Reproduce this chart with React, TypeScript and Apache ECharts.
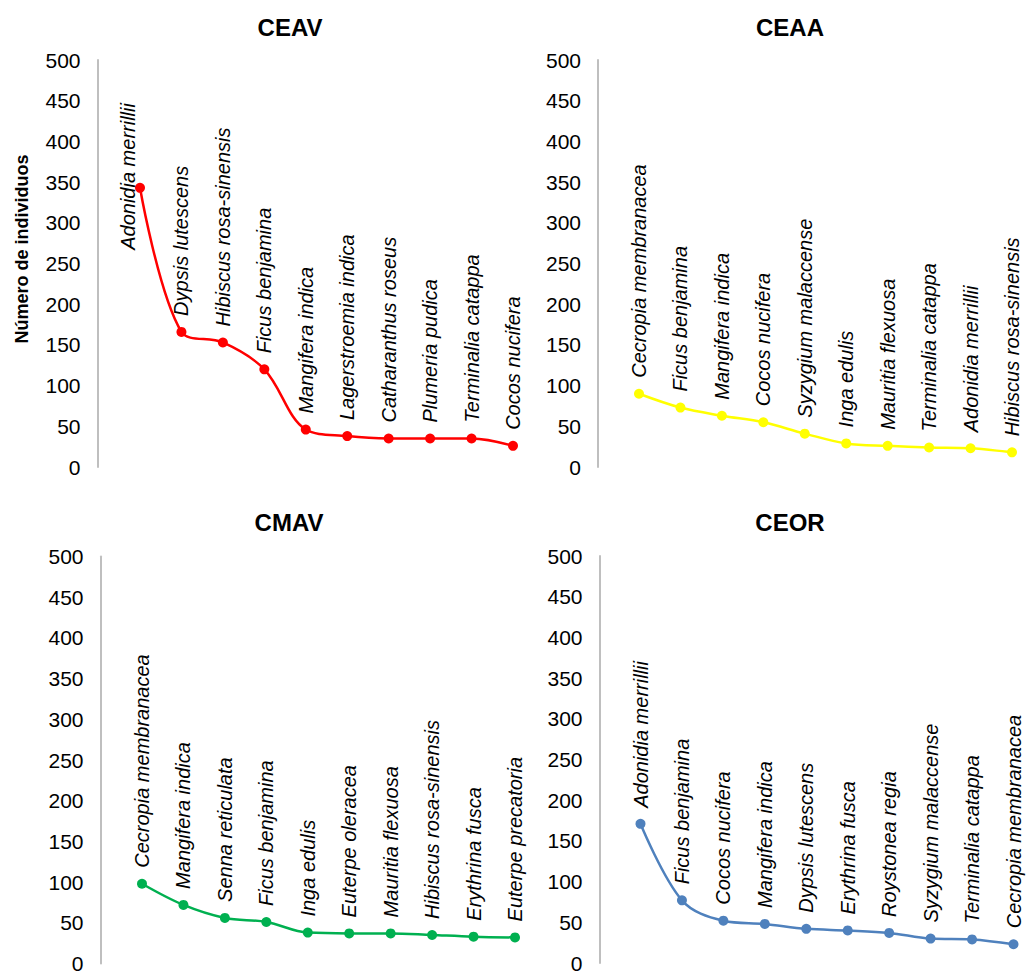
import React, { useEffect, useRef } from "react";
import * as echarts from "echarts";

const categoriesCEAV = ["Adonidia merrillii", "Dypsis lutescens", "Hibiscus rosa-sinensis", "Ficus benjamina", "Mangifera indica", "Lagerstroemia indica", "Catharanthus roseus", "Plumeria pudica", "Terminalia catappa", "Cocos nucifera"];
const valuesCEAV = [343, 166, 153, 120, 46, 38, 35, 35, 35, 26];

const categoriesCEAA = ["Cecropia membranacea", "Ficus benjamina", "Mangifera indica", "Cocos nucifera", "Syzygium malaccense", "Inga edulis", "Mauritia flexuosa", "Terminalia catappa", "Adonidia merrillii", "Hibiscus rosa-sinensis"];
const valuesCEAA = [90, 73, 63, 55, 41, 29, 26, 24, 23, 18];

const categoriesCMAV = ["Cecropia membranacea", "Mangifera indica", "Senna reticulata", "Ficus benjamina", "Inga edulis", "Euterpe oleracea", "Mauritia flexuosa", "Hibiscus rosa-sinensis", "Erythrina fusca", "Euterpe precatoria"];
const valuesCMAV = [98, 72, 56, 51, 38, 37, 37, 35, 33, 32];

const categoriesCEOR = ["Adonidia merrillii", "Ficus benjamina", "Cocos nucifera", "Mangifera indica", "Dypsis lutescens", "Erythrina fusca", "Roystonea regia", "Syzygium malaccense", "Terminalia catappa", "Cecropia membranacea"];
const valuesCEOR = [171, 77, 52, 48, 42, 40, 37, 30, 29, 23];

const panelTitles = ["CEAV", "CEAA", "CMAV", "CEOR"];
const yTicks = { min: 0, max: 500, interval: 50 };
const yAxisName = "Número de individuos";

const FONT = "'Liberation Sans', Arial, sans-serif";

export default function App() {
  const ref = useRef<HTMLDivElement>(null);
  useEffect(() => {
    document.body.style.margin = "0";
    if (!ref.current) return;
    const chart = echarts.init(ref.current, undefined, { renderer: "svg" });

    const panels = [
      { cats: categoriesCEAV, vals: valuesCEAV, color: "#FF0000", left: 140, top: 60, axisX: 97.5, titleX: 285, titleY: 10 },
      { cats: categoriesCEAA, vals: valuesCEAA, color: "#FFFF00", left: 639, top: 60, axisX: 598, titleX: 785, titleY: 10 },
      { cats: categoriesCMAV, vals: valuesCMAV, color: "#00B050", left: 142, top: 556.5, axisX: 100.5, titleX: 284, titleY: 505 },
      { cats: categoriesCEOR, vals: valuesCEOR, color: "#4F81BD", left: 640.5, top: 556, axisX: 599.5, titleX: 785, titleY: 505 },
    ];
    const gridW = 373;
    const gridH = 407;

    const option: any = {
      animation: false,
      backgroundColor: "#fff",
      textStyle: { fontFamily: FONT },
      title: panels.map((p, i) => ({
        text: panelTitles[i],
        left: p.titleX,
        top: p.titleY,
        textAlign: "center",
        textStyle: { fontSize: 24, fontWeight: "bold", color: "#000", fontFamily: FONT },
      })),
      grid: panels.map((p) => ({ left: p.left, top: p.top, width: gridW, height: gridH })),
      xAxis: panels.map((p, i) => ({
        type: "category",
        gridIndex: i,
        data: p.cats,
        boundaryGap: false,
        axisLine: { show: false },
        axisTick: { show: false },
        axisLabel: { show: false },
        splitLine: { show: false },
      })),
      yAxis: panels.map((p, i) => ({
        type: "value",
        gridIndex: i,
        min: yTicks.min,
        max: yTicks.max,
        interval: yTicks.interval,
        offset: p.left - p.axisX,
        axisLine: { show: true, lineStyle: { color: "#BFBFBF", width: 2 } },
        axisTick: { show: false },
        splitLine: { show: false },
        axisLabel: { color: "#000", fontSize: 21, margin: 17, fontFamily: FONT },
      })),
      graphic: [
        {
          type: "text",
          x: 22,
          y: 249,
          rotation: Math.PI / 2,
          style: {
            text: yAxisName,
            fontSize: 18,
            fontWeight: "bold",
            fill: "#000",
            fontFamily: FONT,
            textAlign: "center",
            textVerticalAlign: "middle",
          },
        },
      ],
      series: panels.map((p, i) => ({
        type: "line",
        xAxisIndex: i,
        yAxisIndex: i,
        smooth: 0.35,
        symbol: "circle",
        symbolSize: 10,
        itemStyle: { color: p.color },
        lineStyle: { color: p.color, width: 2.5 },
        label: {
          show: true,
          position: "top",
          distance: 11,
          rotate: 90,
          align: "left",
          verticalAlign: "middle",
          fontStyle: "italic",
          fontSize: 20,
          color: "#000",
          fontFamily: FONT,
          formatter: (d: any) => d.name,
        },
        data: p.vals.map((v, j) =>
          i === 0 && j === 0 ? { value: v, label: { offset: [-78, -12] } } : v
        ),
      })),
    };
    chart.setOption(option);
    return () => chart.dispose();
  }, []);
  return <div ref={ref} style={{ width: 1027, height: 975 }} />;
}
